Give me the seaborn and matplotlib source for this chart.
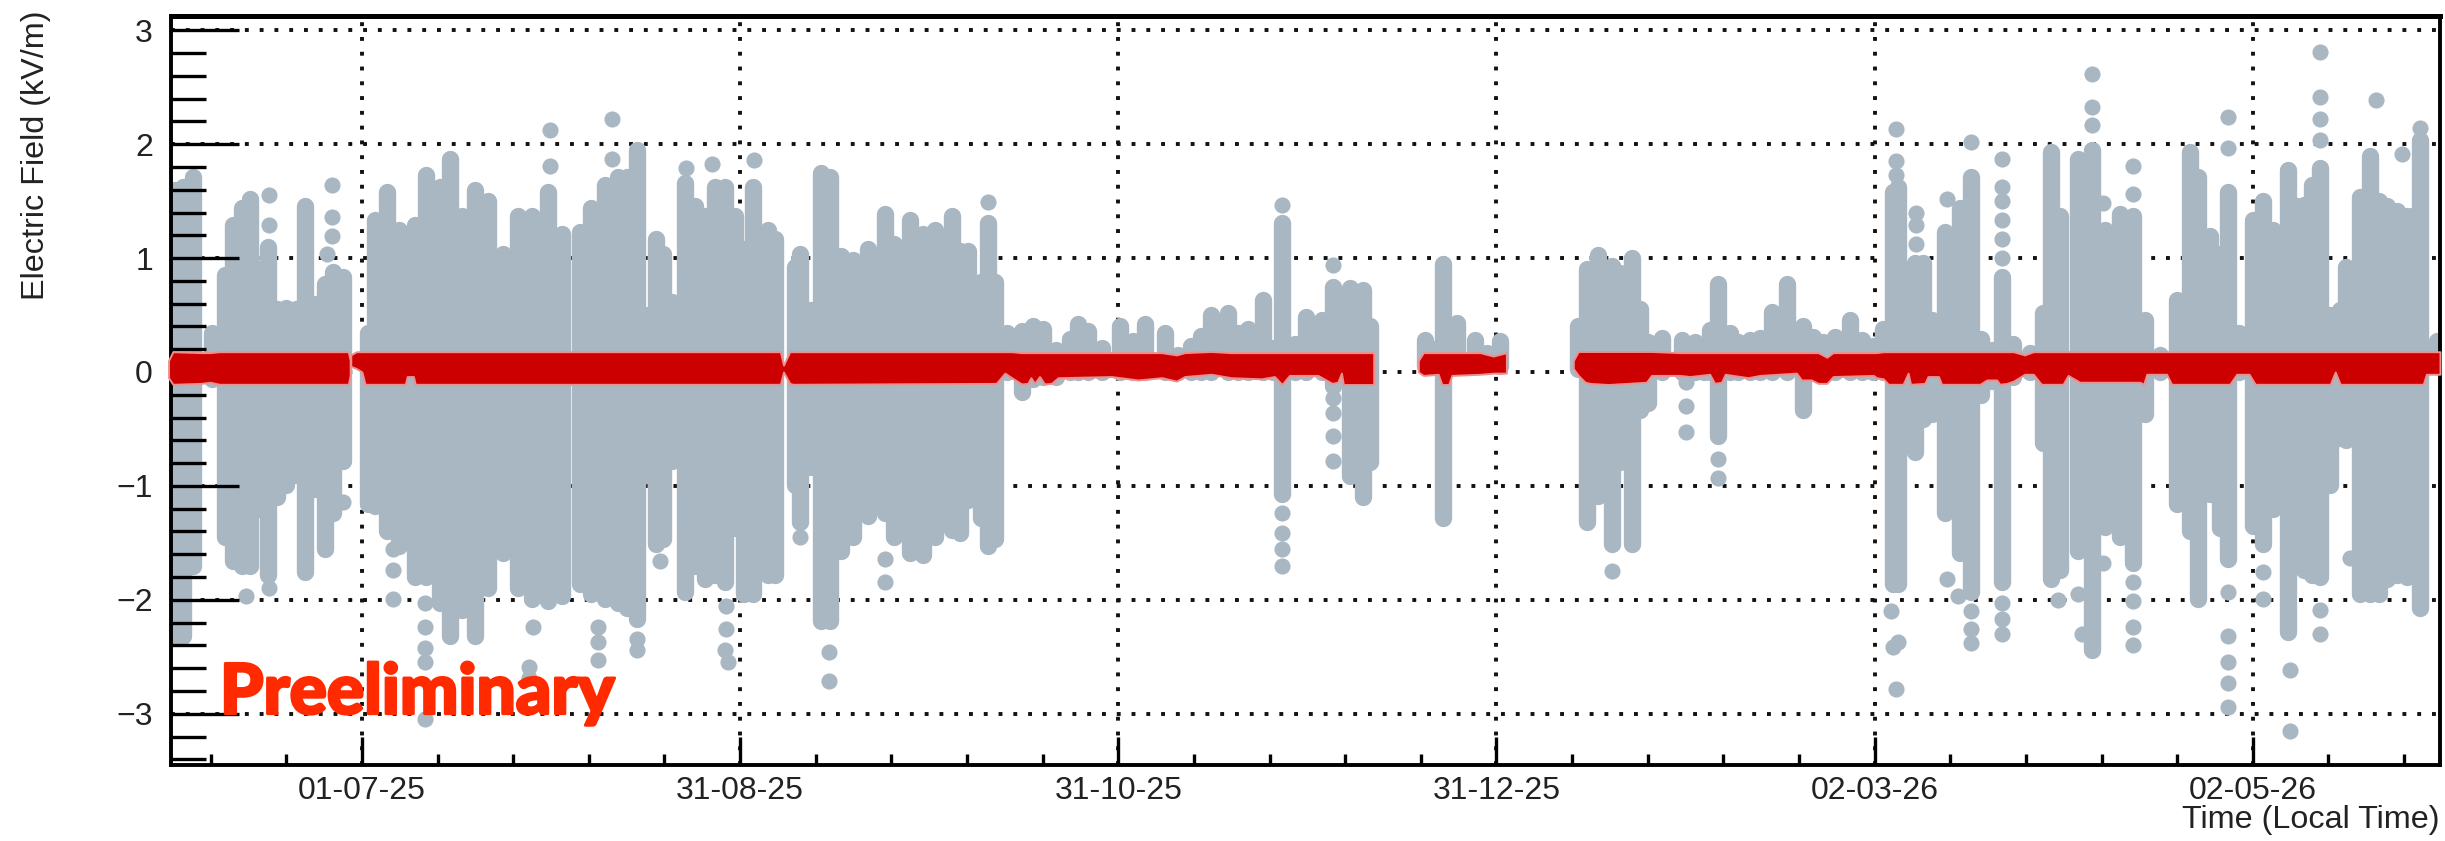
import pandas as pd
import seaborn as sns
import matplotlib.pyplot as plt
import matplotlib.patheffects as pe
from matplotlib.ticker import MultipleLocator, FixedLocator, FixedFormatter

# x values are days since 01-07-25
tick_days = [0, 61, 122, 183, 244, 305]
tick_labels = ['01-07-25', '31-08-25', '31-10-25', '31-12-25', '02-03-26', '02-05-26']
y_ticks = [-3, -2, -1, 0, 1, 2, 3]

# range of the grey points per time bin: day, max, min
grey_bins = [
    (-30.2, 1.60, -2.32), (-28.8, 1.62, -2.32), (-27.2, 1.71, -1.70), (-24.2, 0.34, -0.06),
    (-22.1, 0.85, -1.45), (-20.8, 1.29, -1.66), (-19.4, 1.44, -1.70), (-18.1, 1.52, -1.70),
    (-16.6, 0.90, -1.20), (-15.1, 1.10, -1.78), (-13.7, 0.55, -1.10), (-12.2, 0.56, -0.99),
    (-10.7, 0.55, -0.90), (-9.2, 1.46, -1.76), (-7.6, 0.60, -1.03), (-6.0, 0.77, -1.55),
    (-4.6, 0.88, -1.24), (-3.0, 0.83, -0.78), (0.9, 0.34, -1.16), (2.1, 1.33, -1.18),
    (4.0, 1.58, -1.40), (5.9, 1.25, -1.53), (8.5, 1.29, -1.80), (10.4, 1.73, -1.80),
    (12.6, 1.62, -2.03), (14.2, 1.87, -2.32), (16.1, 1.37, -2.09), (18.2, 1.60, -2.32),
    (20.4, 1.50, -1.90), (22.8, 1.04, -1.59), (25.2, 1.37, -1.90), (27.4, 1.37, -1.99),
    (30.0, 1.58, -2.01), (32.2, 1.21, -1.97), (35.1, 1.23, -1.86), (37.0, 1.44, -1.95),
    (39.2, 1.64, -1.99), (41.3, 1.71, -2.03), (42.8, 1.71, -2.07), (44.3, 1.95, -2.17),
    (45.9, 0.50, -0.90), (47.5, 1.17, -1.51), (48.6, 1.04, -1.47), (50.0, 0.61, -0.78),
    (52.1, 1.66, -1.93), (53.7, 1.46, -1.70), (55.3, 1.37, -1.82), (56.9, 1.62, -1.78),
    (58.5, 1.62, -1.84), (60.1, 1.37, -1.37), (61.7, 1.08, -1.95), (63.1, 1.62, -1.95),
    (65.5, 1.25, -1.78), (66.6, 1.17, -1.78), (69.9, 0.92, -0.99), (70.6, 1.04, -1.32),
    (72.5, 0.54, -0.83), (74.1, 1.75, -2.19), (75.5, 1.71, -2.19), (77.3, 1.02, -1.57),
    (79.2, 0.98, -1.45), (81.6, 1.08, -1.26), (84.3, 1.39, -1.24), (85.9, 1.12, -1.45),
    (88.4, 1.33, -1.59), (90.5, 1.21, -1.61), (92.4, 1.25, -1.45), (95.1, 1.37, -1.39),
    (96.4, 1.06, -1.41), (97.8, 1.06, -1.12), (99.9, 0.79, -1.28), (101.0, 1.31, -1.53),
    (102.1, 0.79, -1.47), (104.0, 0.34, 0.0), (106.4, 0.36, -0.18), (108.2, 0.40, -0.06),
    (109.9, 0.38, -0.04), (112.0, 0.19, -0.04), (114.2, 0.29, 0.0), (115.5, 0.42, 0.0),
    (117.1, 0.36, 0.0), (119.3, 0.21, 0.0), (122.2, 0.40, 0.0), (124.4, 0.27, 0.0),
    (126.3, 0.42, 0.0), (129.5, 0.34, 0.0), (131.6, 0.15, 0.0), (133.8, 0.23, 0.0),
    (135.4, 0.32, 0.0), (137.0, 0.50, 0.0), (139.7, 0.52, 0.0), (141.3, 0.34, 0.0),
    (142.9, 0.38, 0.0), (145.3, 0.63, 0.0), (147.0, 0.21, 0.0), (148.4, 1.31, -1.07),
    (150.5, 0.25, 0.0), (152.3, 0.48, 0.0), (154.8, 0.46, 0.0), (156.6, 0.75, -0.12),
    (159.4, 0.74, -0.91), (161.5, 0.72, -1.10), (162.6, 0.40, -0.79),
    (171.5, 0.28, 0.05), (172.8, 0.20, 0.05), (174.4, 0.95, -1.28), (176.6, 0.43, 0.05),
    (179.6, 0.28, 0.05), (181.4, 0.17, 0.05), (183.6, 0.27, 0.05),
    (196.2, 0.40, 0.03), (197.6, 0.90, -1.32), (199.4, 1.03, -1.09), (201.6, 0.93, -1.51),
    (203.0, 0.87, -0.79), (204.8, 1.00, -1.51), (206.2, 0.55, -0.33), (207.5, 0.26, -0.27),
    (209.7, 0.30, 0.0), (212.9, 0.28, 0.0), (215.0, 0.26, 0.0), (216.4, 0.23, 0.0),
    (217.4, 0.37, 0.0), (218.8, 0.77, -0.56), (220.7, 0.34, 0.0), (222.0, 0.26, 0.0),
    (223.9, 0.28, 0.0), (225.5, 0.30, 0.0), (227.4, 0.53, 0.0), (229.8, 0.77, 0.0),
    (232.5, 0.40, -0.33), (234.1, 0.31, 0.0), (235.7, 0.26, 0.0), (237.6, 0.31, 0.0),
    (240.0, 0.46, 0.0), (241.9, 0.28, 0.0), (243.8, 0.23, 0.0), (245.4, 0.38, 0.0),
    (247.0, 1.58, -1.86), (247.8, 1.62, -1.86), (250.5, 0.96, -0.70), (251.8, 0.96, -0.41),
    (253.2, 0.46, -0.37), (255.3, 1.23, -1.24), (257.8, 1.44, -1.59), (259.6, 1.71, -1.93),
    (261.2, 0.29, -0.20), (262.9, 0.19, -0.08), (264.6, 0.83, -1.84), (266.4, 0.25, -0.04),
    (269.0, 0.17, 0.0), (271.2, 0.52, -0.62), (272.5, 1.93, -1.82), (273.9, 1.37, -1.74),
    (276.8, 1.87, -1.57), (279.1, 1.95, -2.44), (281.1, 1.25, -1.36), (283.6, 1.39, -1.45),
    (285.7, 1.37, -1.68), (287.6, 0.46, -0.37), (290.0, 0.15, 0.0), (292.7, 0.63, -1.16),
    (294.9, 1.93, -1.40), (296.2, 1.71, -1.99), (298.1, 1.19, -1.07), (299.7, 1.04, -1.37),
    (301.0, 1.58, -1.64), (302.7, 0.34, 0.0), (305.1, 1.33, -1.35), (306.7, 1.50, -1.51),
    (308.3, 1.25, -1.20), (310.7, 1.77, -2.28), (312.1, 1.46, -1.70), (313.2, 1.47, -1.74),
    (314.5, 1.64, -1.78), (315.8, 1.79, -1.80), (317.5, 0.50, -0.99), (319.0, 0.54, -0.58),
    (320.1, 0.92, -0.60), (322.3, 1.54, -1.95), (323.9, 1.90, -1.95), (325.3, 1.50, -1.95),
    (326.6, 1.46, -1.82), (328.2, 1.41, -1.78), (329.8, 1.37, -1.80), (330.9, 1.37, -1.68),
    (332.0, 2.04, -2.07), (334.7, 0.27, 0.05),
]

# grey points standing apart from the dense part
single_days = [
    -15.0, -15.0, -15.0, -18.7, -4.9, -4.9, -4.9, -5.7, -3.0, 5.0, 5.0, 5.0,
    10.2, 10.2, 10.2, 10.2, 10.2, 27.6, 27.0, 27.0, 30.3, 30.3,
    40.3, 40.3, 38.1, 38.1, 38.1, 44.3, 44.3, 48.0, 52.3, 56.4, 58.8, 58.8, 58.5, 59.0, 63.2,
    70.6, 75.3, 75.3, 84.3, 84.3, 101.0,
    148.4, 148.4, 148.4, 148.4, 148.4, 156.6, 156.6, 156.6, 156.6, 156.6,
    201.6, 213.6, 213.6, 213.6, 218.8, 218.8,
    247.5, 247.5, 247.5, 246.7, 247.0, 247.8, 247.5, 250.7, 250.7, 250.7, 255.6, 255.6,
    257.5, 259.6, 259.6, 259.6, 259.6,
    264.6, 264.6, 264.6, 264.6, 264.6, 264.6, 264.6, 264.6, 264.6,
    273.6, 276.8, 279.1, 279.1, 279.1, 277.4, 280.9, 280.9,
    285.7, 285.7, 285.7, 285.7, 285.7, 285.7,
    301.0, 301.0, 301.0, 301.0, 301.0, 301.0, 301.0, 306.7, 306.7, 311.0, 311.0,
    315.8, 315.8, 315.8, 315.8, 315.8, 315.8, 320.7, 329.0, 324.9, 332.0,
]
single_vals = [
    1.55, 1.29, -1.90, -1.97, 1.64, 1.36, 1.19, 1.04, -1.14, -1.55, -1.74, -1.99,
    -2.03, -2.24, -2.42, -2.55, -3.05, -2.24, -2.59, -2.69, 2.12, 1.81,
    2.22, 1.87, -2.24, -2.37, -2.53, -2.34, -2.44, -1.66, 1.79, 1.83, -2.05, -2.26, -2.44, -2.55, 1.86,
    -1.45, -2.46, -2.71, -1.64, -1.84, 1.49,
    1.47, -1.24, -1.41, -1.55, -1.70, 0.94, -0.23, -0.36, -0.56, -0.78,
    -1.75, -0.09, -0.30, -0.53, -0.76, -0.93,
    2.13, 1.85, 1.73, -2.10, -2.41, -2.37, -2.78, 1.40, 1.29, 1.12, 1.52, -1.82,
    -1.97, 2.02, -2.10, -2.26, -2.38,
    1.87, 1.62, 1.50, 1.33, 1.17, 1.00, -2.03, -2.17, -2.30,
    -2.00, -1.95, 2.62, 2.33, 2.17, -2.30, 1.48, -1.68,
    1.81, 1.56, -1.84, -2.01, -2.24, -2.40,
    2.24, 1.97, -1.93, -2.32, -2.55, -2.73, -2.94, -1.76, -1.99, -2.62, -3.15,
    2.81, 2.41, 2.22, 2.04, -2.09, -2.30, -1.63, 1.91, 2.39, 2.14,
]

# red band, one list per stretch of data taking: day, upper edge, lower edge
red_parts = [
    [(-31.2, 0.10, -0.05), (-30.5, 0.178, -0.108), (-26.0, 0.17, -0.10), (-24.5, 0.17, -0.09),
     (-23.0, 0.178, -0.108), (-2.2, 0.178, -0.108), (-1.9, 0.10, -0.03)],
    [(-1.8, 0.15, 0.05), (-0.9, 0.178, 0.03), (0.0, 0.178, 0.0), (0.5, 0.178, -0.108),
     (7.0, 0.178, -0.108), (7.3, 0.178, -0.04), (8.3, 0.178, -0.04), (8.6, 0.178, -0.108),
     (67.5, 0.178, -0.108), (68.0, 0.06, 0.0), (69.0, 0.178, -0.10), (69.5, 0.178, -0.108),
     (102.3, 0.178, -0.10), (103.1, 0.178, -0.05), (103.7, 0.178, -0.01), (104.8, 0.178, -0.05),
     (106.4, 0.17, -0.105), (107.4, 0.17, -0.10), (107.9, 0.17, -0.05), (108.5, 0.17, -0.10),
     (109.3, 0.17, -0.04), (110.1, 0.17, -0.105), (111.2, 0.17, -0.10), (112.3, 0.17, -0.05),
     (120.9, 0.17, -0.04), (125.2, 0.17, -0.07), (129.0, 0.17, -0.05), (131.4, 0.15, -0.08),
     (132.7, 0.17, -0.04), (137.0, 0.18, -0.02), (140.2, 0.17, -0.05), (145.1, 0.17, -0.06),
     (147.2, 0.17, -0.04), (148.4, 0.17, -0.11), (149.6, 0.17, -0.03), (154.2, 0.17, -0.03),
     (156.5, 0.17, -0.10), (157.4, 0.17, -0.09), (158.0, 0.17, -0.01), (158.3, 0.17, -0.11),
     (163.2, 0.17, -0.11)],
    [(170.4, 0.10, 0.0), (171.2, 0.17, -0.03), (173.6, 0.17, -0.02), (174.2, 0.17, -0.11),
     (175.3, 0.17, -0.11), (175.8, 0.17, -0.03), (180.4, 0.17, -0.02), (182.5, 0.14, -0.01),
     (184.6, 0.17, -0.01)],
    [(195.4, 0.10, 0.03), (196.2, 0.18, -0.03), (197.3, 0.18, -0.09), (198.1, 0.18, -0.10),
     (201.0, 0.18, -0.11), (207.2, 0.18, -0.09), (208.0, 0.18, -0.03), (212.6, 0.17, -0.03),
     (214.2, 0.17, -0.04), (217.4, 0.17, -0.02), (218.2, 0.17, -0.10), (219.3, 0.17, -0.09),
     (219.9, 0.17, -0.02), (223.6, 0.17, -0.05), (225.5, 0.17, -0.03), (231.4, 0.17, -0.01),
     (232.2, 0.17, -0.07), (233.8, 0.17, -0.07), (234.9, 0.17, -0.10), (236.3, 0.13, -0.10),
     (237.3, 0.17, -0.04), (243.8, 0.17, -0.03), (244.3, 0.17, -0.05), (245.4, 0.178, -0.06),
     (246.2, 0.178, -0.108), (248.6, 0.178, -0.108), (249.4, 0.178, -0.01), (249.8, 0.178, -0.108),
     (252.1, 0.178, -0.10), (252.6, 0.178, -0.04), (254.3, 0.178, -0.04), (254.8, 0.178, -0.108),
     (261.0, 0.178, -0.108), (262.1, 0.178, -0.07), (263.7, 0.178, -0.07), (264.2, 0.178, -0.108),
     (265.3, 0.178, -0.10), (266.4, 0.178, -0.08), (268.2, 0.15, -0.02), (269.6, 0.178, -0.02),
     (270.9, 0.178, -0.108), (274.4, 0.178, -0.108), (275.2, 0.178, -0.03), (277.1, 0.178, -0.09),
     (286.8, 0.178, -0.09), (287.4, 0.178, -0.108), (287.9, 0.178, -0.02), (291.1, 0.178, -0.02),
     (291.9, 0.178, -0.108), (301.3, 0.178, -0.108), (302.4, 0.178, -0.02), (304.4, 0.178, -0.02),
     (305.4, 0.178, -0.108), (317.5, 0.178, -0.108), (318.3, 0.178, 0.0), (319.1, 0.178, -0.108),
     (332.5, 0.178, -0.108), (333.0, 0.178, -0.02), (335.2, 0.178, -0.02)],
]

GREY = '#a9b7c3'
RED = '#cc0000'

sns.set_theme(style='ticks')
plt.rcParams['font.family'] = ['Liberation Sans', 'DejaVu Sans']

fig = plt.figure(figsize=(24.45, 8.41), dpi=100)
ax = fig.add_axes([171 / 2445, 76 / 841, 2269 / 2445, 749 / 841])

# dotted grid under the points, ticks stay on top of the grey
for d in tick_days:
    ax.axvline(d, color='#111111', lw=2.8, ls=(0, (1, 2.8)), zorder=1)
for v in y_ticks:
    ax.axhline(v, color='#111111', lw=2.8, ls=(0, (1, 2.8)), zorder=1)
ax.set_axisbelow(False)

grey = pd.DataFrame(grey_bins, columns=['day', 'max', 'min'])
grey = grey.melt(id_vars='day', value_name='field')
sns.lineplot(data=grey, x='day', y='field', units='day', estimator=None, color=GREY,
             linewidth=12.5, solid_capstyle='round', legend=False, ax=ax, zorder=2)

singles = pd.DataFrame({'day': single_days, 'field': single_vals})
sns.scatterplot(data=singles, x='day', y='field', color=GREY, s=135, linewidth=0,
                legend=False, ax=ax, zorder=2)

for part in red_parts:
    band = pd.DataFrame(part, columns=['day', 'top', 'bottom'])
    ax.fill_between(band['day'], band['top'], band['bottom'], facecolor=RED,
                    edgecolor='#ee8f8f', linewidth=1.4, zorder=3, clip_on=False)

ax.set_xlim(-30.8, 335.2)
ax.set_ylim(-3.45, 3.125)
ax.xaxis.set_major_locator(FixedLocator(tick_days))
ax.xaxis.set_major_formatter(FixedFormatter(tick_labels))
ax.xaxis.set_minor_locator(MultipleLocator(12.2))
ax.yaxis.set_major_locator(FixedLocator(y_ticks))
ax.yaxis.set_minor_locator(MultipleLocator(0.2))
ax.tick_params(axis='x', which='major', direction='in', length=20, width=2.4, pad=8,
               labelsize=23, labelcolor='#222222', color='black')
ax.tick_params(axis='x', which='minor', direction='in', length=8, width=2.4, color='black')
ax.tick_params(axis='y', which='major', direction='in', length=49, width=2.4, pad=13,
               labelsize=23, labelcolor='#222222', color='black')
ax.tick_params(axis='y', which='minor', direction='in', length=25, width=2.4, color='black')
for spine in ax.spines.values():
    spine.set_color('black')
    spine.set_linewidth(2.8)
    spine.set_visible(True)
ax.spines['top'].set_linewidth(3.6)

ax.set_xlabel('')
ax.set_ylabel('')
fig.text(36 / 2445, 1 - 155 / 841, 'Electric Field (kV/m)', rotation=90, ha='center', va='center',
         fontsize=23.3, color='#222222')
fig.text(2440 / 2445, 1 - 820 / 841, 'Time (Local Time)', ha='right', va='center',
         fontsize=23.3, color='#222222')
ax.text(-22.9, -3.0, 'Preeliminary', color='#ff2a00', fontsize=50, fontweight='black',
        family=['Lato', 'DejaVu Sans'], ha='left', va='baseline', zorder=5,
        path_effects=[pe.withStroke(linewidth=2, foreground='#ff2a00')])

fig.savefig('out.png', dpi=100)
plt.close(fig)
print('fin')
